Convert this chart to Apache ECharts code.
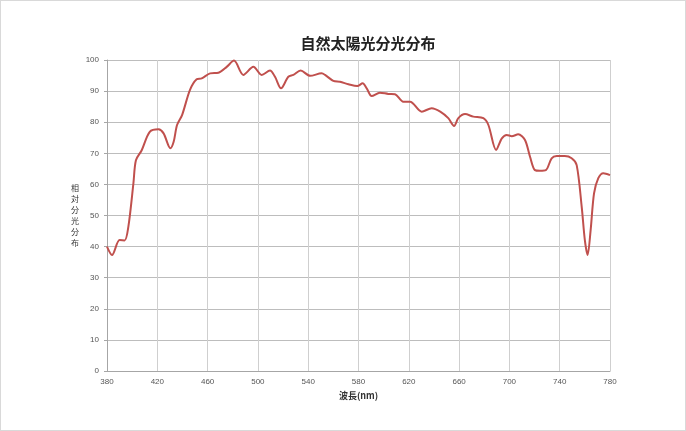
<!DOCTYPE html>
<html>
<head>
<meta charset="utf-8">
<script src="https://cdn.jsdelivr.net/npm/echarts@6/dist/echarts.min.js"></script>
<style>
  html, body { margin: 0; padding: 0; background: #fff; }
  #chart { width: 684px; height: 429px; border: 1px solid #d9d9d9; }
</style>
</head>
<body>
<div id="chart"></div>
<script>
// wavelength (nm) and relative spectral distribution
const wavelengths = [380, 384, 390, 394, 397, 401, 403, 407.6, 414, 421, 425, 430.4, 433, 435.7, 439.7, 446, 451.3, 455.3, 462, 468.6, 475.2, 481, 488.4, 496.4, 503, 509.6, 513.6, 518.4, 524.2, 528.2, 534, 541.5, 550.7, 553.4, 560, 565.3, 572, 579, 583.3, 586.5, 590.5, 597, 603.7, 609, 615.6, 621, 630.3, 638.2, 645, 651.4, 656, 659.4, 664.7, 671.3, 679.3, 683.3, 689.4, 694, 697.9, 701.9, 707, 712.4, 716.4, 720.3, 724.3, 729, 733.6, 737.6, 744, 749.5, 753.5, 757.5, 760, 762.2, 764.6, 767.3, 770.7, 774.7, 780];
const intensity = [40.0, 37.3, 42.1, 42.0, 46.4, 60.3, 67.8, 71.0, 76.9, 77.7, 76.4, 71.6, 73.7, 79.1, 82.3, 90.4, 93.8, 94.1, 95.7, 95.9, 97.8, 99.8, 95.2, 97.8, 95.2, 96.6, 94.6, 90.9, 94.6, 95.2, 96.6, 94.9, 95.7, 95.2, 93.3, 93.0, 92.2, 91.6, 92.5, 90.9, 88.4, 89.5, 89.1, 89.0, 86.6, 86.6, 83.4, 84.5, 83.4, 81.3, 78.8, 81.3, 82.6, 81.8, 81.3, 79.1, 71.1, 74.8, 75.9, 75.5, 76.1, 74.3, 68.9, 64.6, 64.4, 64.6, 68.4, 69.1, 69.1, 68.4, 66.2, 52.8, 42.1, 37.3, 45.3, 57.1, 62.0, 63.6, 63.0];

const xTicks = { min: 380, max: 780, interval: 40 };
const yTicks = { min: 0, max: 100, interval: 10 };

const chart = echarts.init(document.getElementById('chart'));
chart.setOption({
  animation: false,
  title: {
    text: '自然太陽光分光分布',
    left: 362,
    top: 30,
    textAlign: 'center',
    textStyle: { fontSize: 15, fontWeight: 'bold', color: '#222', fontFamily: 'Noto Sans CJK JP' }
  },
  grid: { left: 106, right: 75, top: 59, bottom: 59 },
  xAxis: {
    type: 'value',
    min: xTicks.min, max: xTicks.max, interval: xTicks.interval,
    name: '波長(nm)',
    nameLocation: 'middle',
    nameGap: 18,
    nameTextStyle: { fontSize: 9, fontWeight: 'bold', color: '#333', fontFamily: 'Noto Sans CJK JP' },
    axisLine: { lineStyle: { color: '#a6a6a6' } },
    axisTick: { show: false },
    axisLabel: { fontSize: 8, color: '#555', margin: 7, fontFamily: 'Liberation Sans' },
    splitLine: { lineStyle: { color: '#cfcfcf' } }
  },
  yAxis: {
    type: 'value',
    min: yTicks.min, max: yTicks.max, interval: yTicks.interval,
    name: '相\n対\n分\n光\n分\n布',
    nameLocation: 'middle',
    nameRotate: 0,
    nameGap: 28,
    nameTextStyle: { fontSize: 8, lineHeight: 11, color: '#333', fontFamily: 'Noto Sans CJK JP' },
    axisLine: { show: true, lineStyle: { color: '#a6a6a6' } },
    axisTick: { show: true, length: 3, lineStyle: { color: '#a6a6a6' } },
    axisLabel: { fontSize: 8, color: '#555', margin: 8, fontFamily: 'Liberation Sans' },
    splitLine: { lineStyle: { color: '#bdbdbd' } }
  },
  series: [{
    type: 'line',
    data: wavelengths.map((w, i) => [w, intensity[i]]),
    smooth: 0.3,
    showSymbol: false,
    lineStyle: { color: '#c0504d', width: 2 }
  }]
});
</script>
</body>
</html>
